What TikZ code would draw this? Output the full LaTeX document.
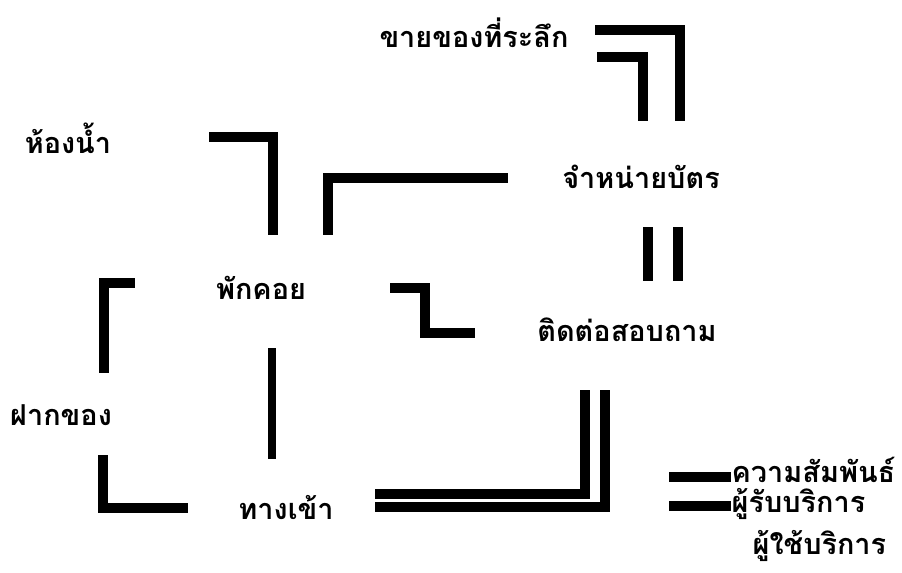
\documentclass[tikz,border=0pt]{standalone}
\usepackage{fontspec}
\setmainfont[Script=Thai]{Loma}

\begin{document}
\begin{tikzpicture}[
  x=0.01cm, y=-0.01cm,
  line cap=rect,
  line join=miter,
  bar/.style={line width=2.8pt},
  thinbar/.style={line width=2.4pt},
  every node/.style={font=\fontsize{8.2}{10}\selectfont\bfseries, inner sep=0pt}
]
  \useasboundingbox (0,0) rectangle (902,573);

  % Пространства
  \node (shop)   at (474,33)  {ขายของที่ระลึก};
  \node (wc)     at (68,138)  {ห้องน้ำ};
  \node (ticket) at (641,177) {จำหน่ายบัตร};
  \node (lounge) at (261,288) {พักคอย};
  \node (info)   at (627,330) {ติดต่อสอบถาม};
  \node (locker) at (61,415)  {ฝากของ};
  \node (entry)  at (286,508) {ทางเข้า};

  % Концы связей
  \coordinate (S1) at (600,30);  \coordinate (S2) at (680,30);  \coordinate (S3) at (680,116);
  \coordinate (S4) at (602,57);  \coordinate (S5) at (643,57);  \coordinate (S6) at (643,116);
  \coordinate (W1) at (214,137); \coordinate (W2) at (273,137); \coordinate (W3) at (273,230);
  \coordinate (T1) at (328,230); \coordinate (T2) at (328,178); \coordinate (T3) at (503,178);
  \coordinate (Q1) at (648,232); \coordinate (Q2) at (648,276);
  \coordinate (Q3) at (678,232); \coordinate (Q4) at (678,276);
  \coordinate (L1) at (104,368); \coordinate (L2) at (104,283); \coordinate (L3) at (130,283);
  \coordinate (Z1) at (395,288); \coordinate (Z2) at (425,288);
  \coordinate (Z3) at (425,333); \coordinate (Z4) at (470,333);
  \coordinate (E1) at (272,352); \coordinate (E2) at (272,455);
  \coordinate (F1) at (103,460); \coordinate (F2) at (103,508); \coordinate (F3) at (183,508);
  \coordinate (D1) at (380,494); \coordinate (D2) at (585,494); \coordinate (D3) at (585,395);
  \coordinate (D4) at (380,507); \coordinate (D5) at (605,507); \coordinate (D6) at (605,395);

  % Связи
  \draw[bar] (S1) -- (S2) -- (S3);
  \draw[bar] (S4) -- (S5) -- (S6);
  \draw[bar] (W1) -- (W2) -- (W3);
  \draw[bar] (T1) -- (T2) -- (T3);
  \draw[bar] (Q1) -- (Q2);
  \draw[bar] (Q3) -- (Q4);
  \draw[bar] (L1) -- (L2) -- (L3);
  \draw[bar] (Z1) -- (Z2) -- (Z3) -- (Z4);
  \draw[thinbar] (E1) -- (E2);
  \draw[bar] (F1) -- (F2) -- (F3);
  \draw[bar] (D1) -- (D2) -- (D3);
  \draw[bar] (D4) -- (D5) -- (D6);

  % Условные обозначения
  \coordinate (G1) at (674,477); \coordinate (G2) at (726,477);
  \coordinate (G3) at (674,506); \coordinate (G4) at (726,506);
  \draw[bar] (G1) -- (G2);
  \draw[bar] (G3) -- (G4);
  \node[anchor=west] (rel)  at (731,470) {ความสัมพันธ์};
  \node[anchor=west] (recv) at (731,504) {ผู้รับบริการ};
  \node[anchor=west] (user) at (752,546) {ผู้ใช้บริการ};
\end{tikzpicture}
\end{document}
